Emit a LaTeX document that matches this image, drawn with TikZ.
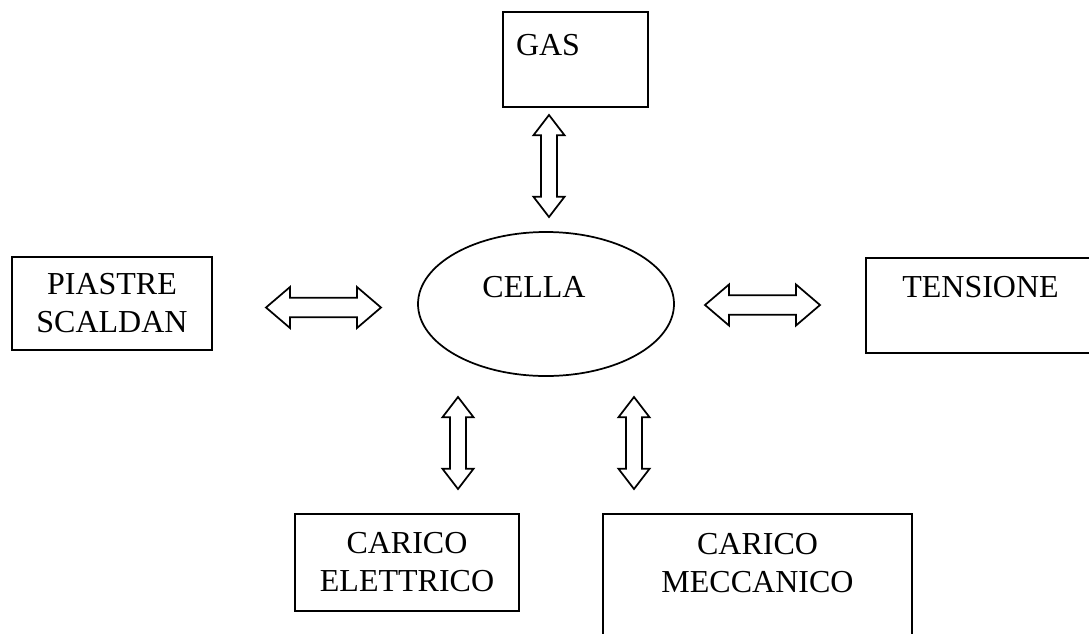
\documentclass[tikz,border=0pt]{standalone}
\usepackage{fontspec}
\setmainfont{Liberation Serif}
\usetikzlibrary{shapes.geometric,shapes.arrows}

\begin{document}
\begin{tikzpicture}[x=0.75pt,y=-0.75pt,line width=1.3pt,
  font=\fontsize{24}{28.5}\selectfont,
  box/.style={draw,rectangle,inner sep=0pt,align=center},
  harr/.style={draw,double arrow,inner xsep=0pt,inner ysep=6.6pt,minimum width=30.75pt,
    double arrow head extend=7.9pt,double arrow tip angle=81,minimum height=86.25pt},
  varr/.style={harr,rotate=90,inner ysep=5.3pt,minimum width=23.25pt,
    double arrow head extend=5.6pt,double arrow tip angle=75,minimum height=69pt}]
  \useasboundingbox (0,0) rectangle (1089,633);
  \clip (0,0) rectangle (1089,633);
  % centre
  \node[draw,ellipse,inner sep=0pt,minimum width=192pt,minimum height=108pt,
    label={[xshift=-9pt,yshift=12.75pt]center:CELLA}] (cella) at (546,304) {};
  % boxes round the cell
  \node[box,minimum width=108.75pt,minimum height=71.25pt,
    label={[xshift=-20.6pt,yshift=10.9pt]center:GAS}] (gas) at (575.5,59.5) {};
  \node[box,minimum width=150pt,minimum height=69.75pt] (piastre) at (112,303.5)
    {PIASTRE\\SCALDAN};
  \node[box,minimum width=171.75pt,minimum height=71.25pt,
    label={[yshift=13.9pt]center:TENSIONE}] (tensione) at (980.5,305.5) {};
  \node[box,minimum width=168pt,minimum height=72.75pt] (elettrico) at (407,562.5)
    {CARICO\\ELETTRICO};
  \node[box,minimum width=231.75pt,minimum height=109.5pt,
    label={[yshift=18pt,align=center]center:CARICO\\MECCANICO}] (meccanico) at (757.5,587) {};
  % block arrows
  \node[varr,minimum height=76.5pt] (a-gas) at (549,166) {};
  \node[harr] (a-piastre) at (323.5,307.5) {};
  \node[harr] (a-tensione) at (762.5,305) {};
  \node[varr] (a-elettrico) at (458,443) {};
  \node[varr] (a-meccanico) at (634,443) {};
\end{tikzpicture}
\end{document}
